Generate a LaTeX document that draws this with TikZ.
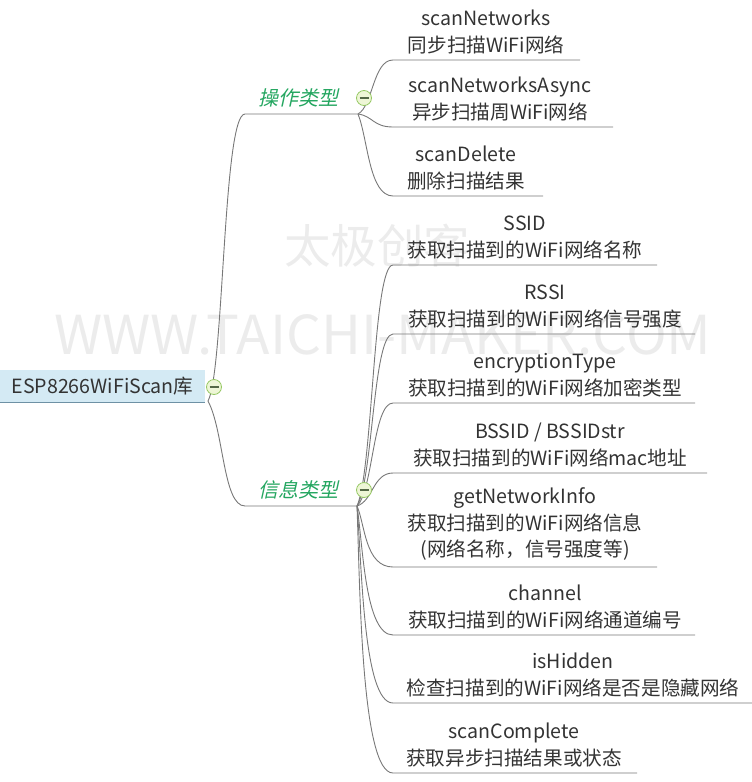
\documentclass[tikz,border=0pt]{standalone}
\usepackage{fontspec}
\usepackage{graphicx}
\setmainfont{Noto Sans CJK SC}
\newfontfamily\slantcjk{Noto Sans CJK SC}[FakeSlant=0.22]
\usetikzlibrary{calc}
\definecolor{leaftext}{RGB}{51,51,51}
\definecolor{connline}{RGB}{120,120,120}
\definecolor{branchgreen}{RGB}{36,166,96}
\definecolor{rootfill}{RGB}{212,234,244}
\definecolor{rootedge}{RGB}{110,145,165}
\definecolor{knobfill}{RGB}{238,246,214}
\definecolor{knobedge}{RGB}{150,200,100}
\definecolor{knobminus}{RGB}{85,105,70}
\definecolor{wmark}{RGB}{236,236,236}
\begin{document}
\begin{tikzpicture}[x=1pt,y=-1pt,
  conn/.style={draw=connline,line width=0.9pt},
  leaf/.style={align=center,inner sep=0pt,text=leaftext,anchor=south,
    font=\fontsize{19.6}{26.5}\selectfont},
  branchtext/.style={inner sep=0pt,text=branchgreen,font=\slantcjk\fontsize{20}{22}\selectfont},
  knob/.style={circle,draw=knobedge,fill=knobfill,line width=0.8pt,minimum size=15pt,inner sep=0pt,
    path picture={\draw[knobminus,line width=1.1pt]
      ($(path picture bounding box.center)+(-4.5pt,0)$) -- ($(path picture bounding box.center)+(4.5pt,0)$);}},
  rootbox/.style={fill=rootfill,inner sep=0pt,minimum width=205pt,minimum height=32pt,
    text=leaftext,font=\fontsize{19.6}{22}\selectfont},
  wm/.style={inner sep=0pt,text=wmark}
]
\useasboundingbox (0,0) rectangle (752,782);

% watermark
\node[wm] (wm1) at (377,246) {\resizebox{186pt}{!}{太极创客}};
\node[wm] (wm2) at (383,335) {\resizebox{657pt}{40pt}{WWW.TAICHI-MAKER.COM}};

% root
\node[rootbox] (root) at (102.5,386) {ESP8266WiFiScan库};
\draw[rootedge,line width=1pt] (root.south west) -- (root.south east);
\coordinate (rj) at (208,401);

% branches
\coordinate (b1s) at (245,114);
\coordinate (b1e) at (358,114);
\coordinate (b2s) at (245,506);
\coordinate (b2e) at (357,506);
\draw[conn] (rj) .. controls +(16,-30) and +(-22,0) .. (b1s) -- (b1e);
\draw[conn] (rj) .. controls +(16,30) and +(-22,0) .. (b2s) -- (b2e);
\node[branchtext] (op) at (298,98) {操作类型};
\node[branchtext] (info) at (298,490) {信息类型};

% leaves of branch 1
\coordinate (s1) at (393,60);  \coordinate (e1) at (580,60);
\coordinate (s2) at (393,127); \coordinate (e2) at (613,127);
\coordinate (s3) at (393,196); \coordinate (e3) at (543,196);
\draw[conn] (b1e) .. controls +(15,-8) and +(-20,0) .. (s1) -- (e1);
\draw[conn] (b1e) .. controls +(15,2) and +(-20,0) .. (s2) -- (e2);
\draw[conn] (b1e) .. controls +(10,25) and +(-24,0) .. (s3) -- (e3);
\node[leaf] (l1) at (486,54) {scanNetworks\\同步扫描WiFi网络};
\node[leaf] (l2) at (500,121) {scanNetworksAsync\\异步扫描周WiFi网络};
\node[leaf] (l3) at (466,190) {scanDelete\\删除扫描结果};

% leaves of branch 2
\coordinate (s4) at (393,265);  \coordinate (e4) at (657,265);
\coordinate (s5) at (393,334);  \coordinate (e5) at (695,334);
\coordinate (s6) at (393,403);  \coordinate (e6) at (695,403);
\coordinate (s7) at (393,473);  \coordinate (e7) at (707,473);
\coordinate (s8) at (393,567);  \coordinate (e8) at (657,567);
\coordinate (s9) at (393,635);  \coordinate (e9) at (695,635);
\coordinate (s10) at (393,703); \coordinate (e10) at (752,703);
\coordinate (s11) at (393,773); \coordinate (e11) at (637,773);
\draw[conn] (b2e) .. controls +(16,-36) and +(-20,0) .. (s4) -- (e4);
\draw[conn] (b2e) .. controls +(16,-26) and +(-20,0) .. (s5) -- (e5);
\draw[conn] (b2e) .. controls +(16,-15) and +(-20,0) .. (s6) -- (e6);
\draw[conn] (b2e) .. controls +(16,-5) and +(-20,0) .. (s7) -- (e7);
\draw[conn] (b2e) .. controls +(8,18) and +(-28,0) .. (s8) -- (e8);
\draw[conn] (b2e) .. controls +(6,39) and +(-28,0) .. (s9) -- (e9);
\draw[conn] (b2e) .. controls +(5,59) and +(-30,0) .. (s10) -- (e10);
\draw[conn] (b2e) .. controls +(3,80) and +(-32,0) .. (s11) -- (e11);
\node[leaf] (l4) at (525,259) {SSID\\获取扫描到的WiFi网络名称};
\node[leaf] (l5) at (545,328) {RSSI\\获取扫描到的WiFi网络信号强度};
\node[leaf] (l6) at (545,397) {encryptionType\\获取扫描到的WiFi网络加密类型};
\node[leaf] (l7) at (550,467) {BSSID / BSSIDstr\\获取扫描到的WiFi网络mac地址};
\node[leaf] (l8) at (525,561) {getNetworkInfo\\获取扫描到的WiFi网络信息\\(网络名称，信号强度等)};
\node[leaf] (l9) at (545,629) {channel\\获取扫描到的WiFi网络通道编号};
\node[leaf] (l10) at (573,697) {isHidden\\检查扫描到的WiFi网络是否是隐藏网络};
\node[leaf] (l11) at (514,767) {scanComplete\\获取异步扫描结果或状态};

% knobs
\node[knob] (k0) at (214,387) {};
\node[knob] (k1) at (364,98) {};
\node[knob] (k2) at (364,490) {};
\end{tikzpicture}
\end{document}
